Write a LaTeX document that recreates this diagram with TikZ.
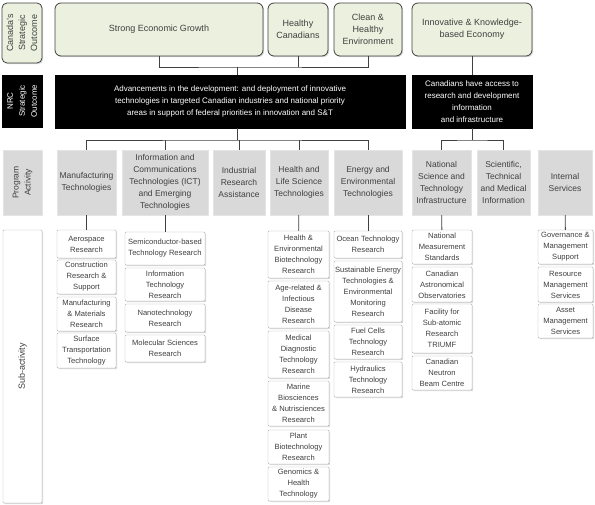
\documentclass[tikz,border=0pt]{standalone}
\usepackage{fontspec}
\setmainfont{Liberation Sans}
\usetikzlibrary{shadows}
\definecolor{outfill}{HTML}{EBF1DE}
\definecolor{linegray}{HTML}{404040}
\definecolor{actfill}{HTML}{D9D9D9}
\definecolor{subline}{HTML}{B0B0B0}

\begin{document}
\begin{tikzpicture}[x=1pt,y=-1pt,
   txt/.style={align=center,text=linegray,inner sep=+1pt},
   shade/.style={drop shadow={opacity=0.3,shadow xshift=1.2pt,shadow yshift=-1.2pt}},
   outcome/.style={txt,rectangle,draw=linegray,fill=outfill,rounded corners=6pt,
    line width=0.8pt,font=\fontsize{9}{12}\selectfont,shade},
   nrcbox/.style={rectangle,fill=black,draw=black,text=white,align=center,
    font=\fontsize{8}{12}\selectfont,shade},
   activity/.style={txt,rectangle,fill=actfill,draw=actfill!70!white,
    font=\fontsize{8.5}{12}\selectfont,shade},
   subact/.style={txt,rectangle,fill=white,draw=subline,rounded corners=1pt,
    font=\fontsize{7.6}{11}\selectfont,shade},
   side/.style={rotate=90,font=\fontsize{8}{11.5}\selectfont,align=center},
   conn/.style={draw=linegray,line width=0.8pt}
    ]
    \useasboundingbox (0,0) rectangle (595,505);

    % Row labels:
    \node[side,outcome,rounded corners=5pt,minimum width=60pt,minimum height=40pt] at (22,33) (lcso) {Canada's\\Strategic\\Outcome};
    \node[side,nrcbox,minimum width=52pt,minimum height=40pt] at (22,101) (lnrc) {NRC\\Strategic\\Outcome};
    \node[side,activity,minimum width=65pt,minimum height=39pt] at (22.5,182.5) (lpa) {Program\\Activity};
    \node[side,subact,font=\fontsize{9}{11}\selectfont,minimum width=273pt,minimum height=39pt] at (22.5,366.5) (lsub) {Sub-activity};

    % Canada's outcomes:
    \node[outcome,minimum width=208pt,minimum height=53pt] at (159,29.5) (seg) {Strong Economic Growth};
    \node[outcome,minimum width=60pt,minimum height=53pt] at (298,29.5) (hc) {Healthy\\Canadians};
    \node[outcome,minimum width=68pt,minimum height=53pt] at (368,29.5) (che) {Clean \&\\Healthy\\Environment};
    \node[outcome,minimum width=120pt,minimum height=53pt] at (472,29.5) (ike) {Innovative \& Knowledge-\\based Economy};

    % NRC outcomes:
    \node[nrcbox,minimum width=350pt,minimum height=53pt] at (230,101.5) (nrc) {Advancements in the development: and deployment of innovative\\technologies in targeted Canadian industries and national priority\\areas in support of federal priorities in innovation and S\&T};
    \node[nrcbox,minimum width=120pt,minimum height=53pt] at (472,101.5) (cda) {Canadians have access to\\research and development\\information\\and infrastructure};

    % Program activities:
    \node[activity,minimum width=59pt,minimum height=65pt] at (86.5,182.5) (mt) {Manufacturing\\Technologies};
    \node[activity,minimum width=86pt,minimum height=65pt] at (165,182.5) (ict) {Information and\\Communications\\Technologies (ICT)\\and Emerging\\Technologies};
    \node[activity,minimum width=52pt,minimum height=65pt] at (239,182.5) (ira) {Industrial\\Research\\Assistance};
    \node[activity,minimum width=58pt,minimum height=65pt] at (299,182.5) (hlst) {Health and\\Life Science\\Technologies};
    \node[activity,minimum width=68pt,minimum height=65pt] at (368,182.5) (eet) {Energy and\\Environmental\\Technologies};
    \node[activity,minimum width=59pt,minimum height=65pt] at (441.5,182.5) (nsti) {National\\Science and\\Technology\\Infrastructure};
    \node[activity,minimum width=53pt,minimum height=65pt] at (503.5,182.5) (stmi) {Scientific,\\Technical\\and Medical\\Information};
    \node[activity,minimum width=54pt,minimum height=65pt] at (565,182.5) (is) {Internal\\Services};

    % Sub-activities:
    \node[subact,minimum width=59pt,minimum height=28pt] at (86.5,244) (mt1) {Aerospace\\Research};
    \node[subact,minimum width=59pt,minimum height=34pt] at (86.5,277) (mt2) {Construction\\Research \&\\Support};
    \node[subact,minimum width=59pt,minimum height=34pt] at (86.5,314) (mt3) {Manufacturing\\\& Materials\\Research};
    \node[subact,minimum width=59pt,minimum height=35pt] at (86.5,350.5) (mt4) {Surface\\Transportation\\Technology};

    \node[subact,minimum width=80pt,minimum height=33pt] at (165,248.5) (ict1) {Semiconductor-based\\Technology Research};
    \node[subact,minimum width=80pt,minimum height=33pt] at (165,284.5) (ict2) {Information\\Technology\\Research};
    \node[subact,minimum width=80pt,minimum height=28pt] at (165,318) (ict3) {Nanotechnology\\Research};
    \node[subact,minimum width=80pt,minimum height=27pt] at (165,348.5) (ict4) {Molecular Sciences\\Research};

    \node[subact,minimum width=61pt,minimum height=47pt] at (298.5,254.5) (hlst1) {Health \&\\Environmental\\Biotechnology\\Research};
    \node[subact,minimum width=61pt,minimum height=47pt] at (298.5,304.5) (hlst2) {Age-related \&\\Infectious\\Disease\\Research};
    \node[subact,minimum width=61pt,minimum height=47pt] at (298.5,354.5) (hlst3) {Medical\\Diagnostic\\Technology\\Research};
    \node[subact,minimum width=61pt,minimum height=45pt] at (298.5,403.5) (hlst4) {Marine\\Biosciences\\\& Nutrisciences\\Research};
    \node[subact,minimum width=61pt,minimum height=34pt] at (298.5,447) (hlst5) {Plant\\Biotechnology\\Research};
    \node[subact,minimum width=61pt,minimum height=34pt] at (298.5,484) (hlst6) {Genomics \&\\Health\\Technology};

    \node[subact,minimum width=68pt,minimum height=27pt] at (368,244.5) (eet1) {Ocean Technology\\Research};
    \node[subact,minimum width=68pt,minimum height=61pt] at (368,291.5) (eet2) {Sustainable Energy\\Technologies \&\\Environmental\\Monitoring\\Research};
    \node[subact,minimum width=68pt,minimum height=34pt] at (368,342) (eet3) {Fuel Cells\\Technology\\Research};
    \node[subact,minimum width=68pt,minimum height=35pt] at (368,379.5) (eet4) {Hydraulics\\Technology\\Research};

    \node[subact,minimum width=60pt,minimum height=34pt] at (442,247) (nsti1) {National\\Measurement\\Standards};
    \node[subact,minimum width=60pt,minimum height=35pt] at (442,284.5) (nsti2) {Canadian\\Astronomical\\Observatories};
    \node[subact,minimum width=60pt,minimum height=49pt] at (442,328.5) (nsti3) {Facility for\\Sub-atomic\\Research\\TRIUMF};
    \node[subact,minimum width=60pt,minimum height=34pt] at (442,373) (nsti4) {Canadian\\Neutron\\Beam Centre};

    \node[subact,minimum width=55pt,minimum height=34pt] at (565.5,247) (is1) {Governance \&\\Management\\Support};
    \node[subact,minimum width=55pt,minimum height=35pt] at (565.5,284.5) (is2) {Resource\\Management\\Services};
    \node[subact,minimum width=55pt,minimum height=34pt] at (565.5,321) (is3) {Asset\\Management\\Services};

    % connectors

    \coordinate (bus1) at (237,67);
    \coordinate (bus2) at (237,140);
    \coordinate (bus3) at (472,140);

    \draw[conn] (seg.south) |- (bus1) -| (che.south);
    \draw[conn] (hc.south) -- (hc.south |- bus1);
    \draw[conn] (bus1) -- (bus1 |- nrc.north);
    \draw[conn] (ike) -- (cda);

    \draw[conn] (bus2 |- nrc.south) -- (bus2);
    \draw[conn] (mt.north) |- (bus2) -| (eet.north);
    \foreach \n in {ict,ira,hlst}
      \draw[conn] (\n.north) -- (\n.north |- bus2);
    \draw[conn] (cda.south) -- (bus3);
    \draw[conn] (nsti.north) |- (bus3) -| (stmi.north);

    \foreach \n in {mt,ict,hlst,eet,nsti,is}
      \draw[conn] (\n) -- (\n1);

\end{tikzpicture}
\end{document}
